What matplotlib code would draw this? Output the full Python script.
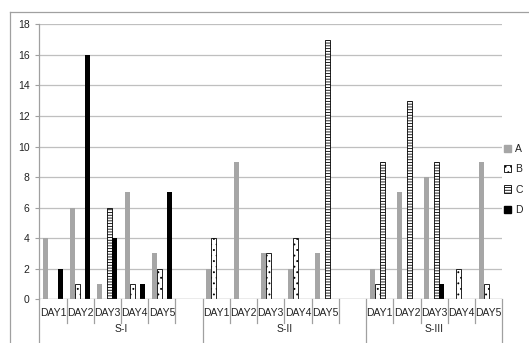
import matplotlib
matplotlib.use("Agg")
import matplotlib.pyplot as plt
from matplotlib.patches import Patch
from matplotlib.lines import Line2D
import numpy as np

plt.rcParams['font.family'] = ['Liberation Sans', 'DejaVu Sans']
plt.rcParams['hatch.linewidth'] = 0.6

groups = ["S-I", "S-II", "S-III"]
days = ["DAY1", "DAY2", "DAY3", "DAY4", "DAY5"]
# slot labels: each group has DAY1..DAY5 and (for S-I, S-II) one empty slot
slot_labels = days + [""] + days + [""] + days
series_names = ["A", "B", "C", "D"]

A = [4, 6, 1, 7, 3, 0,   2, 9, 3, 2, 3, 0,   2, 7, 8, 0, 9]
B = [0, 1, 0, 1, 2, 0,   4, 0, 3, 4, 0, 0,   1, 0, 0, 2, 1]
C = [0, 0, 6, 0, 0, 0,   0, 0, 0, 0, 17, 0,  9, 13, 9, 0, 0]
D = [2, 16, 4, 1, 7, 0,  0, 0, 0, 0, 0, 0,   0, 0, 1, 0, 0]
yticks = [0, 2, 4, 6, 8, 10, 12, 14, 16, 18]

W, H = 529, 343
fig = plt.figure(figsize=(W / 100, H / 100), dpi=100)
ax = fig.add_axes([39.3 / W, 1 - 299.3 / H, (502.3 - 39.3) / W, (299.3 - 24.3) / H])

n = len(slot_labels)
x = np.arange(n)
w = 1 / 5.5
styles = [
    dict(color="#A6A6A6", edgecolor="none"),
    dict(facecolor="white", edgecolor="black", hatch="...", linewidth=0.6),
    dict(facecolor="white", edgecolor="black", hatch="------", linewidth=0.6),
    dict(color="black", edgecolor="none"),
]
data = [A, B, C, D]
handles = []
for i, (vals, st) in enumerate(zip(data, styles)):
    ax.bar(x + (i - 1.5) * w, vals, width=w, zorder=3, **st)
    handles.append(Patch(**st))

fs = 7.5
ax.set_xlim(-0.5, n - 0.5)
ax.set_ylim(0, 18)
ax.set_yticks(yticks)
ax.tick_params(axis='y', length=3, pad=4, color="#A0A0A0", labelsize=fs, labelcolor="#222222")
ax.set_xticks([])
ax.grid(axis='y', color="#BFBFBF", linewidth=0.9, zorder=0)
for s in ["top", "right", "bottom"]:
    ax.spines[s].set_visible(False)
ax.spines["left"].set_color("#A0A0A0")
ax.spines["left"].set_linewidth(0.9)
ax.axhline(0, color="#A0A0A0", linewidth=0.9, zorder=4)

trans = ax.get_xaxis_transform()
for k, lab in enumerate(slot_labels):
    if lab:
        ax.text(k, -0.051, lab, transform=trans, ha="center", va="center", fontsize=fs, color="#222222")
group_bounds = [-0.5, 5.5, 11.5, 16.5]
for b in np.arange(-0.5, n, 1.0):
    if any(abs(b - g) < 1e-9 for g in group_bounds):
        ax.plot([b, b], [0, -0.165], transform=trans, color="#A0A0A0", linewidth=0.9, clip_on=False)
    else:
        ax.plot([b, b], [0, -0.085], transform=trans, color="#A0A0A0", linewidth=0.9, clip_on=False)
for gi, g in enumerate(groups):
    c = (group_bounds[gi] + group_bounds[gi + 1]) / 2
    ax.text(c, -0.108, g, transform=trans, ha="center", va="center", fontsize=fs, color="#222222")

leg = fig.legend(handles, series_names, loc="center left",
                 bbox_to_anchor=(504 / W, 1 - 179.5 / H), frameon=False,
                 fontsize=fs, handlelength=0.7, handleheight=0.7,
                 handletextpad=0.4, labelspacing=1.0, borderaxespad=0, borderpad=0)
for t in leg.get_texts():
    t.set_color("#222222")

fig.add_artist(Line2D([9.5 / W, 9.5 / W], [0, 1 - 12 / H], transform=fig.transFigure, color="#A0A0A0", linewidth=0.9))
fig.add_artist(Line2D([9.5 / W, 1], [1 - 12 / H, 1 - 12 / H], transform=fig.transFigure, color="#A0A0A0", linewidth=0.9))

fig.savefig("out.png", dpi=100)
